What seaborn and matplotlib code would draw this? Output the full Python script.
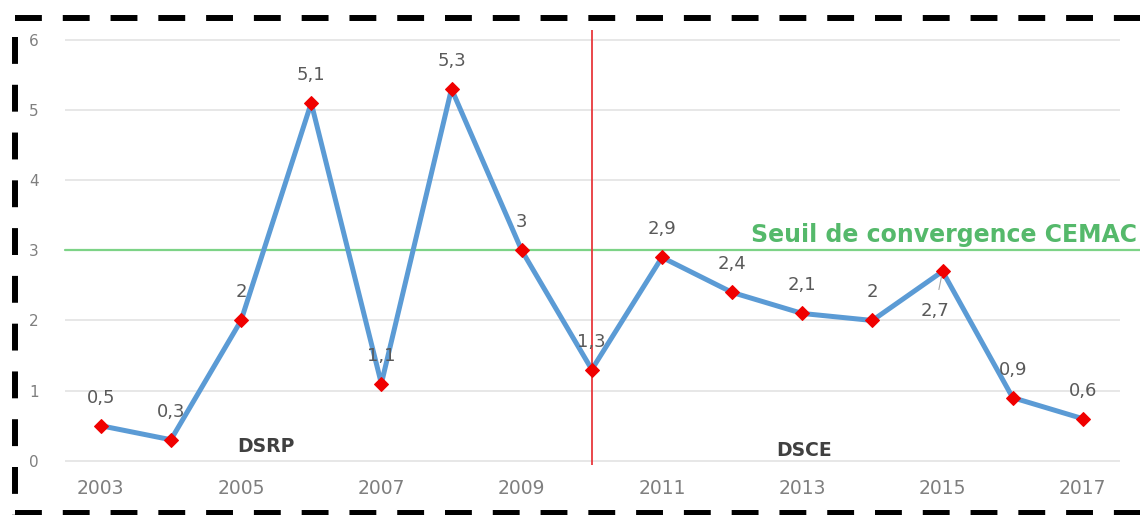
import matplotlib
matplotlib.use("Agg")
import matplotlib.pyplot as plt
from matplotlib.lines import Line2D
import seaborn as sns
import pandas as pd

# Annual series
years = [2003, 2004, 2005, 2006, 2007, 2008, 2009, 2010,
         2011, 2012, 2013, 2014, 2015, 2016, 2017]
values = [0.5, 0.3, 2, 5.1, 1.1, 5.3, 3, 1.3,
          2.9, 2.4, 2.1, 2, 2.7, 0.9, 0.6]
x_ticks = [2003, 2005, 2007, 2009, 2011, 2013, 2015, 2017]
y_ticks = [0, 1, 2, 3, 4, 5, 6]
threshold = 3
threshold_label = "Seuil de convergence CEMAC"
split_year = 2010
period_labels = ["DSRP", "DSCE"]

df = pd.DataFrame({"annee": years, "valeur": values})

sns.set_theme(style="white")
plt.rcParams["font.family"] = ["DejaVu Sans"]

W, H = 1140, 515
fig = plt.figure(figsize=(W / 100, H / 100), dpi=100)
ax = fig.add_axes([65 / W, 1 - 465 / H, (1120 - 65) / W, (465 - 30) / H])

ax.set_xlim(2002.49, 2017.53)
ax.set_ylim(-0.06, 6.14)

# grid
for yt in y_ticks:
    ax.axhline(yt, color="#e3e3e3", lw=1.2, zorder=0)

# threshold
ax.axhline(threshold, xmin=0, xmax=(1140 - 65) / (1120 - 65), color="#7dd387",
           lw=1.6, zorder=1, clip_on=False)
ax.text(1.0165, threshold + 0.05, threshold_label, transform=ax.get_yaxis_transform(),
        ha="right", va="bottom", color="#55b96b", fontsize=17, fontweight="bold")

# period separator
ax.axvline(split_year, color="#e8383d", lw=1.3, zorder=1)

sns.lineplot(data=df, x="annee", y="valeur", ax=ax, color="#5b9bd5", lw=3.6,
             marker="D", markersize=7, markerfacecolor="#f00000",
             markeredgecolor="#f00000", zorder=3)


def fmt(v):
    s = f"{v:g}"
    return s.replace(".", ",")


for yr, v in zip(years, values):
    if yr == 2015:
        ax.annotate(fmt(v), xy=(yr, v), xytext=(-8, -40), textcoords="offset pixels",
                    ha="center", va="center", fontsize=13, color="#595959",
                    arrowprops=dict(arrowstyle="-", color="#a6a6a6", lw=0.8,
                                    shrinkA=7, shrinkB=4))
    else:
        ax.annotate(fmt(v), xy=(yr, v), xytext=(0, 28), textcoords="offset pixels",
                    ha="center", va="center", fontsize=13, color="#595959", zorder=4)

ax.text(2005.35, 0.2, period_labels[0], ha="center", va="center", fontsize=13.5,
        fontweight="bold", color="#404040")
ax.text(2013.03, 0.14, period_labels[1], ha="center", va="center", fontsize=13.5,
        fontweight="bold", color="#404040")

ax.set_xticks(x_ticks)
ax.set_xticklabels([str(t) for t in x_ticks])
ax.set_yticks(y_ticks)
ax.set_yticklabels([str(t) for t in y_ticks])
ax.tick_params(axis="x", length=0, pad=10, labelsize=13.5, labelcolor="#7f7f7f")
ax.tick_params(axis="y", length=0, pad=26, labelsize=11, labelcolor="#7f7f7f")
for lab in ax.get_yticklabels():
    lab.set_horizontalalignment("left")
ax.set_xlabel("")
ax.set_ylabel("")
sns.despine(ax=ax, left=True, bottom=True)

# dashed frame
dash = (0, (4.5, 3.5))
fig.add_artist(Line2D([15 / W, 1.0], [1 - 18 / H] * 2, transform=fig.transFigure,
                      color="black", lw=4.3, linestyle=dash))
fig.add_artist(Line2D([15 / W] * 2, [1 - 37 / H, 0.0], transform=fig.transFigure,
                      color="black", lw=4.3, linestyle=dash))
fig.add_artist(Line2D([15 / W, 1.0], [1 - 513 / H] * 2, transform=fig.transFigure,
                      color="black", lw=4.3, linestyle=dash))

fig.savefig("out.png", dpi=100, facecolor="white")
